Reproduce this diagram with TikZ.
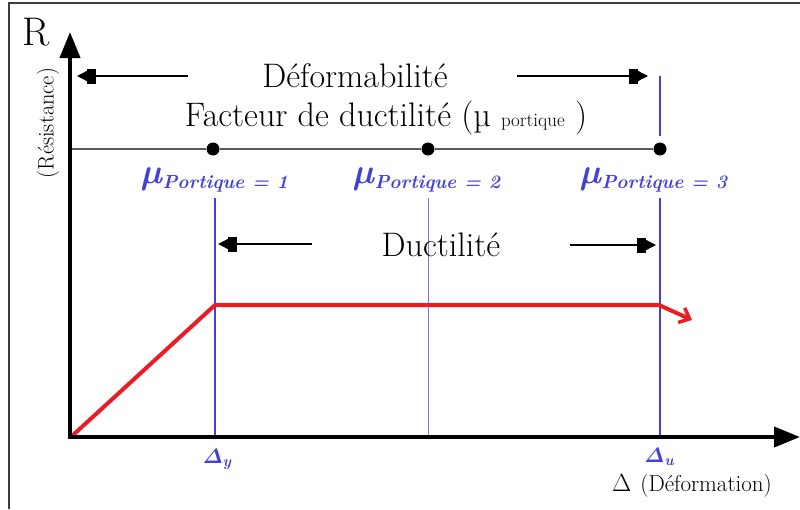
\documentclass[tikz,border=0pt]{standalone}
\usepackage{fontspec}
\usetikzlibrary{arrows.meta}
\definecolor{myblue}{RGB}{66,66,214}
\definecolor{lightblue}{RGB}{120,120,232}
\definecolor{myred}{RGB}{236,28,36}
\definecolor{framegray}{RGB}{60,60,60}
\definecolor{linegray}{RGB}{90,90,90}
\newcommand{\itDelta}{\mathchar"0101}
\begin{document}
\begin{tikzpicture}[x=1pt,y=-1pt,
  axis/.style={line width=4pt,-{Triangle[length=26pt,width=20pt]}},
  dimarrow/.style={line width=1.3pt,-{Square[length=9pt,width=15pt]Triangle[length=10pt,width=10pt]}},
  dot/.style={circle,fill=black,inner sep=0pt,minimum size=13pt},
  bigtxt/.style={inner sep=0pt,font=\fontsize{34}{34}\selectfont},
  mulabel/.style={inner sep=0pt,text=myblue,font=\bfseries\itshape\boldmath},
  bluev/.style={myblue,line width=2.5pt},
  thinv/.style={lightblue,line width=1pt}]
\useasboundingbox (0,0) rectangle (800,509);
% frame
\draw[framegray,line width=2pt] (8.5,509) -- (8.5,2.5) -- (800,2.5);
% coordinates
\coordinate (O) at (70,437);
\coordinate (Ytop) at (70,32);
\coordinate (Xend) at (800,437);
% vertical blue lines
\coordinate (b1t) at (215,198);
\coordinate (b1b) at (215,437);
\coordinate (b2t) at (428,198);
\coordinate (b2b) at (428,437);
\coordinate (b3t) at (660,198);
\coordinate (b3b) at (660,437);
\coordinate (b3u) at (660,76);
\coordinate (b3l) at (660,136);
\draw[bluev] (b1t) -- (b1b);
\draw[thinv] (b2t) -- (b2b);
\draw[bluev] (b3t) -- (b3b);
\draw[bluev] (b3u) -- (b3l);
% red curve
\coordinate (r0) at (72,436);
\coordinate (r1) at (215,305);
\coordinate (r2) at (659,305);
\coordinate (r3) at (692,320);
\draw[myred,line width=4pt,line join=round,-{Straight Barb[length=9pt,width=16pt,line width=3.5pt]}] (r0) -- (r1) -- (r2) -- (r3);
% axes
\draw[axis] (O) -- (Ytop);
\draw[axis] ([xshift=-2pt]O) -- (Xend);
% gray line with dots
\coordinate (g0) at (72,149);
\node[dot] (d1) at (213,149) {};
\node[dot] (d2) at (428,149) {};
\node[dot] (d3) at (660,149) {};
\draw[linegray,line width=1.5pt] (g0) -- (d1) -- (d2) -- (d3);
% texts
\node[inner sep=0pt,font=\fontsize{40}{40}\selectfont] (R) at (36,32) {R};
\node[inner sep=0pt,rotate=90,font=\fontsize{22.5}{22.5}\selectfont] (res) at (48,123) {(Résistance)};
\node[bigtxt] (def) at (355,76) {Déformabilité};
\node[bigtxt] (fac) at (386,118) {Facteur de ductilité (µ {\fontsize{19}{19}\selectfont portique} )};
\node[bigtxt] (duc) at (441,245) {Ductilité};
\node[mulabel] (m1) at (215,180) {{\fontsize{35}{35}\selectfont µ}\raisebox{-5pt}{\fontsize{19}{19}\selectfont Portique = 1}};
\node[mulabel] (m2) at (427,180) {{\fontsize{35}{35}\selectfont µ}\raisebox{-5pt}{\fontsize{19}{19}\selectfont Portique = 2}};
\node[mulabel] (m3) at (654,180) {{\fontsize{35}{35}\selectfont µ}\raisebox{-5pt}{\fontsize{19}{19}\selectfont Portique = 3}};
\node[mulabel] (dy) at (217,459) {{\fontsize{22}{22}\selectfont $\itDelta$}\raisebox{-3pt}{\fontsize{15}{15}\selectfont y}};
\node[mulabel] (du) at (659,457) {{\fontsize{22}{22}\selectfont $\itDelta$}\raisebox{-3pt}{\fontsize{15}{15}\selectfont u}};
\node[inner sep=0pt,anchor=west] (deltaD) at (612,486) {{\fontsize{31}{31}\selectfont $\Delta$}\hspace{9pt}{\fontsize{23}{23}\selectfont (Déformation)}};
% dimension arrows
\coordinate (a1s) at (188,76);
\coordinate (a1e) at (77,76);
\coordinate (a2s) at (517,76);
\coordinate (a2e) at (648,76);
\coordinate (a3s) at (312,244);
\coordinate (a3e) at (218,244);
\coordinate (a4s) at (570,245);
\coordinate (a4e) at (656,245);
\draw[dimarrow] (a1s) -- (a1e);
\draw[dimarrow] (a2s) -- (a2e);
\draw[dimarrow] (a3s) -- (a3e);
\draw[dimarrow] (a4s) -- (a4e);
\end{tikzpicture}
\end{document}
